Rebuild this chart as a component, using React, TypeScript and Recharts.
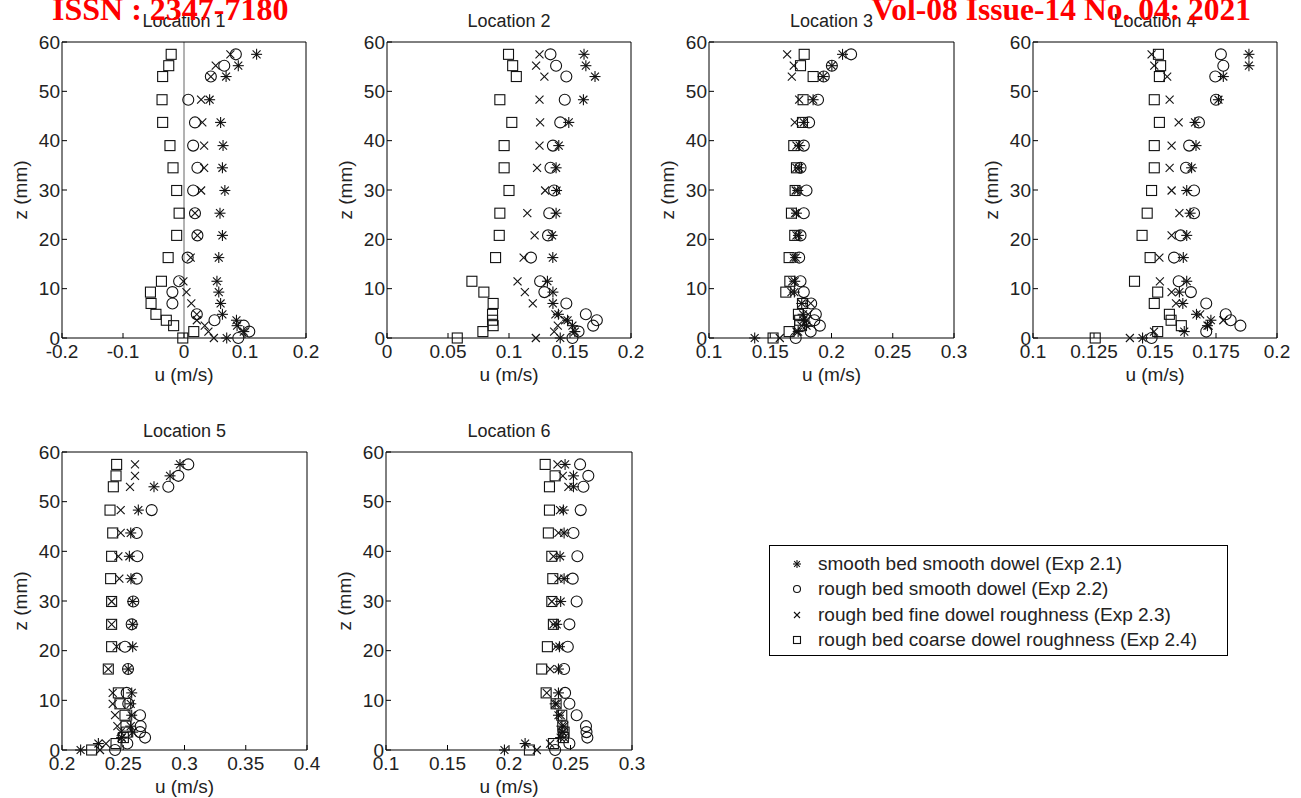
import React from "react";
import { ScatterChart, Scatter, XAxis, YAxis, ReferenceLine } from "recharts";

// measurement heights above the bed (mm), bottom to top
const zLevels = [0, 1.3, 2.5, 3.6, 4.8, 7.0, 9.3, 11.5, 16.3, 20.8, 25.3, 29.9, 34.5, 39.0, 43.7, 48.3, 53.0, 55.2, 57.5];
const zTicks = [0, 10, 20, 30, 40, 50, 60];

const seriesLabels = [
  "smooth bed smooth dowel (Exp 2.1)",
  "rough bed smooth dowel (Exp 2.2)",
  "rough bed fine dowel roughness (Exp 2.3)",
  "rough bed coarse dowel roughness (Exp 2.4)",
];

// Location 1
const loc1Ticks = [-0.2, -0.1, 0, 0.1, 0.2];
const loc1Exp21 = [0.070, 0.098, 0.087, 0.086, 0.063, 0.060, 0.057, 0.054, 0.057, 0.063, 0.059, 0.067, 0.063, 0.064, 0.060, 0.042, 0.069, 0.089, 0.119];
const loc1Exp22 = [0.089, 0.107, 0.098, 0.050, 0.021, -0.019, -0.019, -0.008, 0.006, 0.022, 0.018, 0.015, 0.022, 0.015, 0.018, 0.007, 0.044, 0.066, 0.085];
const loc1Exp23 = [0.049, 0.040, 0.034, 0.021, 0.021, 0.012, 0.004, -0.001, 0.011, 0.022, 0.018, 0.028, 0.033, 0.033, 0.030, 0.028, 0.044, 0.052, 0.076];
const loc1Exp24 = [-0.002, 0.016, -0.017, -0.029, -0.046, -0.054, -0.055, -0.037, -0.026, -0.012, -0.008, -0.012, -0.018, -0.023, -0.035, -0.036, -0.035, -0.025, -0.021];

// Location 2
const loc2Ticks = [0, 0.05, 0.1, 0.15, 0.2];
const loc2Exp21 = [0.142, 0.154, 0.152, 0.148, 0.1405, 0.136, 0.136, 0.1315, 0.1359, 0.1353, 0.1386, 0.139, 0.1386, 0.1408, 0.149, 0.161, 0.1705, 0.163, 0.1615];
const loc2Exp22 = [0.152, 0.157, 0.169, 0.172, 0.163, 0.147, 0.129, 0.1255, 0.118, 0.132, 0.133, 0.137, 0.134, 0.136, 0.142, 0.1457, 0.147, 0.1386, 0.134];
const loc2Exp23 = [0.122, 0.137, 0.140, 0.146, 0.138, 0.1195, 0.113, 0.107, 0.112, 0.121, 0.115, 0.1296, 0.123, 0.125, 0.1255, 0.125, 0.129, 0.1222, 0.125];
const loc2Exp24 = [0.0576, 0.0786, 0.087, 0.0865, 0.0865, 0.087, 0.0794, 0.0696, 0.089, 0.092, 0.0925, 0.100, 0.096, 0.096, 0.1023, 0.0925, 0.106, 0.103, 0.0996];

// Location 3
const loc3Ticks = [0.1, 0.15, 0.2, 0.25, 0.3];
const loc3Exp21 = [0.1373, 0.1728, 0.1796, 0.177, 0.1768, 0.1757, 0.1697, 0.170, 0.1708, 0.173, 0.1714, 0.1725, 0.1736, 0.174, 0.1774, 0.185, 0.1932, 0.2003, 0.209];
const loc3Exp22 = [0.1708, 0.183, 0.1905, 0.186, 0.1872, 0.1834, 0.1774, 0.1747, 0.1736, 0.1747, 0.1774, 0.1796, 0.1747, 0.1774, 0.1817, 0.189, 0.1937, 0.2003, 0.216];
const loc3Exp23 = [0.1578, 0.1714, 0.1755, 0.1796, 0.181, 0.183, 0.1673, 0.168, 0.1692, 0.1714, 0.1703, 0.1708, 0.1714, 0.1714, 0.170, 0.1736, 0.1676, 0.1692, 0.1638];
const loc3Exp24 = [0.1523, 0.1654, 0.174, 0.174, 0.173, 0.1763, 0.1627, 0.166, 0.1654, 0.170, 0.1673, 0.1703, 0.1714, 0.1692, 0.1763, 0.1768, 0.185, 0.1747, 0.1777];

// Location 4
const loc4Ticks = [0.1, 0.125, 0.15, 0.175, 0.2];
const loc4Exp21 = [0.1449, 0.162, 0.1715, 0.1729, 0.167, 0.1614, 0.160, 0.163, 0.1616, 0.163, 0.1644, 0.163, 0.165, 0.1668, 0.1664, 0.176, 0.178, 0.1885, 0.1885];
const loc4Exp22 = [0.1486, 0.171, 0.185, 0.181, 0.179, 0.171, 0.1647, 0.1597, 0.1578, 0.1605, 0.166, 0.166, 0.1627, 0.164, 0.168, 0.175, 0.1747, 0.178, 0.177];
const loc4Exp23 = [0.1397, 0.1496, 0.172, 0.178, 0.1685, 0.1586, 0.1568, 0.152, 0.1518, 0.1568, 0.160, 0.1568, 0.156, 0.1568, 0.1597, 0.156, 0.155, 0.1497, 0.1486];
const loc4Exp24 = [0.1255, 0.1511, 0.1608, 0.1566, 0.1559, 0.1497, 0.1511, 0.1416, 0.148, 0.1447, 0.1468, 0.1486, 0.1497, 0.1497, 0.1518, 0.1497, 0.1518, 0.1523, 0.1514];

// Location 5
const loc5Ticks = [0.2, 0.25, 0.3, 0.35, 0.4];
const loc5Exp21 = [0.2152, 0.2297, 0.2487, 0.2577, 0.2561, 0.2569, 0.2561, 0.2569, 0.2541, 0.2577, 0.2577, 0.2577, 0.2563, 0.2550, 0.2561, 0.2623, 0.2751, 0.2882, 0.2963];
const loc5Exp22 = [0.2433, 0.2533, 0.2678, 0.2637, 0.2642, 0.2637, 0.2541, 0.2528, 0.2539, 0.2514, 0.2569, 0.2582, 0.2610, 0.2615, 0.2610, 0.2732, 0.2868, 0.2950, 0.3031];
const loc5Exp23 = [0.2310, 0.2359, 0.2487, 0.2479, 0.2452, 0.2433, 0.2414, 0.2414, 0.2378, 0.2446, 0.2405, 0.2405, 0.2468, 0.2460, 0.2479, 0.2479, 0.2555, 0.2596, 0.2596];
const loc5Exp24 = [0.2242, 0.2441, 0.2501, 0.2528, 0.2522, 0.2514, 0.2473, 0.2460, 0.2378, 0.2405, 0.2405, 0.2405, 0.2397, 0.2405, 0.2414, 0.2392, 0.2419, 0.2441, 0.2446];

// Location 6
const loc6Ticks = [0.1, 0.15, 0.2, 0.25, 0.3];
const loc6Exp21 = [0.1963, 0.2131, 0.242, 0.2437, 0.243, 0.2402, 0.2375, 0.2402, 0.2402, 0.241, 0.2388, 0.242, 0.2448, 0.2415, 0.2448, 0.2442, 0.2524, 0.2524, 0.2456];
const loc6Exp22 = [0.2375, 0.2491, 0.2637, 0.263, 0.2626, 0.255, 0.2491, 0.2456, 0.2448, 0.2478, 0.2491, 0.255, 0.2518, 0.2556, 0.2524, 0.2583, 0.2605, 0.2645, 0.2578];
const loc6Exp23 = [0.2226, 0.2334, 0.2448, 0.2437, 0.2448, 0.242, 0.2388, 0.2307, 0.2334, 0.2383, 0.2361, 0.2348, 0.2402, 0.2361, 0.2402, 0.2415, 0.2483, 0.2437, 0.2394];
const loc6Exp24 = [0.2166, 0.2361, 0.2442, 0.2448, 0.2437, 0.2429, 0.2383, 0.2302, 0.2266, 0.2312, 0.2361, 0.2348, 0.2356, 0.2348, 0.232, 0.2329, 0.2329, 0.2375, 0.2294];

const FONT = '"Liberation Sans", Arial, Helvetica, sans-serif';
const SERIF = '"Liberation Serif", "Times New Roman", serif';
const TEXT = "#222";
const INK = "#111";

type MarkProps = { cx?: number; cy?: number; small?: boolean };

function Asterisk({ cx = 0, cy = 0, small }: MarkProps) {
  const r = small ? 4 : 5.5;
  const d = r * 0.72;
  return (
    <g stroke={INK} strokeWidth={1.1} fill="none">
      <line x1={cx - r} y1={cy} x2={cx + r} y2={cy} />
      <line x1={cx} y1={cy - r} x2={cx} y2={cy + r} />
      <line x1={cx - d} y1={cy - d} x2={cx + d} y2={cy + d} />
      <line x1={cx - d} y1={cy + d} x2={cx + d} y2={cy - d} />
    </g>
  );
}

function Ring({ cx = 0, cy = 0, small }: MarkProps) {
  return <circle cx={cx} cy={cy} r={small ? 3.5 : 5.5} stroke={INK} strokeWidth={1.1} fill="none" />;
}

function Cross({ cx = 0, cy = 0, small }: MarkProps) {
  const h = small ? 3 : 4;
  return (
    <g stroke={INK} strokeWidth={1.1} fill="none">
      <line x1={cx - h} y1={cy - h} x2={cx + h} y2={cy + h} />
      <line x1={cx - h} y1={cy + h} x2={cx + h} y2={cy - h} />
    </g>
  );
}

function Square({ cx = 0, cy = 0, small }: MarkProps) {
  const h = small ? 3.5 : 5;
  return <rect x={cx - h} y={cy - h} width={2 * h} height={2 * h} stroke={INK} strokeWidth={1.1} fill="none" />;
}

const markers = [Asterisk, Ring, Cross, Square];

type Box = { left: number; top: number; w: number; h: number };

// room around the plot box for tick labels
const PAD_L = 60;
const PAD_R = 24;
const PAD_T = 14;
const PAD_B = 45;

function Panel({ title, ticks, series, box, zeroLine }: {
  title: string;
  ticks: number[];
  series: number[][];
  box: Box;
  zeroLine?: boolean;
}) {
  const domain: [number, number] = [ticks[0], ticks[ticks.length - 1]];
  const tickText = { fill: TEXT, fontSize: 19, fontFamily: FONT };
  const label = { position: "absolute" as const, fontFamily: FONT, color: TEXT, whiteSpace: "nowrap" as const };
  return (
    <>
      <div style={{ ...label, left: box.left, width: box.w, top: box.top - 31, lineHeight: "20px", fontSize: 18, textAlign: "center" }}>
        {title}
      </div>
      <div style={{ ...label, left: box.left, width: box.w, top: box.top + box.h + 27, lineHeight: "20px", fontSize: 19, textAlign: "center" }}>
        u (m/s)
      </div>
      <div style={{
        ...label, left: box.left - 41, top: box.top + box.h / 2, fontSize: 19, lineHeight: "20px",
        transform: "translate(-50%, -50%) rotate(-90deg)",
      }}>
        z (mm)
      </div>
      <div style={{ position: "absolute", left: box.left - PAD_L, top: box.top - PAD_T }}>
        <ScatterChart
          width={PAD_L + box.w + PAD_R}
          height={PAD_T + box.h + PAD_B}
          margin={{ top: 0, right: 0, bottom: 0, left: 0 }}
        >
          <XAxis xAxisId="b" type="number" dataKey="u" domain={domain} ticks={ticks} interval={0}
            orientation="bottom" height={PAD_B} tickSize={-5} tickMargin={12} stroke="#000" tick={tickText} />
          <XAxis xAxisId="t" type="number" domain={domain} ticks={ticks} interval={0}
            orientation="top" height={PAD_T} tickSize={-5} stroke="#000" tick={false} />
          <YAxis yAxisId="l" type="number" dataKey="z" domain={[0, 60]} ticks={zTicks} interval={0}
            width={PAD_L} tickSize={-5} tickMargin={7} stroke="#000" tick={tickText} />
          <YAxis yAxisId="r" type="number" domain={[0, 60]} ticks={zTicks} interval={0}
            orientation="right" width={PAD_R} tickSize={-5} stroke="#000" tick={false} />
          {zeroLine && <ReferenceLine xAxisId="b" yAxisId="l" x={0} stroke="#666" strokeWidth={1} />}
          {series.map((vals, i) => {
            const Mark = markers[i];
            return (
              <Scatter
                key={i}
                name={seriesLabels[i]}
                xAxisId="b"
                yAxisId="l"
                data={zLevels.map((z, k) => ({ u: vals[k], z }))}
                shape={(p: any) => <Mark cx={p.cx} cy={p.cy} />}
                isAnimationActive={false}
              />
            );
          })}
        </ScatterChart>
      </div>
    </>
  );
}

const panels = [
  { title: "Location 1", ticks: loc1Ticks, series: [loc1Exp21, loc1Exp22, loc1Exp23, loc1Exp24], box: { left: 62, top: 42, w: 244, h: 296 }, zeroLine: true },
  { title: "Location 2", ticks: loc2Ticks, series: [loc2Exp21, loc2Exp22, loc2Exp23, loc2Exp24], box: { left: 387, top: 42, w: 244, h: 296 } },
  { title: "Location 3", ticks: loc3Ticks, series: [loc3Exp21, loc3Exp22, loc3Exp23, loc3Exp24], box: { left: 709, top: 42, w: 245, h: 296 } },
  { title: "Location 4", ticks: loc4Ticks, series: [loc4Exp21, loc4Exp22, loc4Exp23, loc4Exp24], box: { left: 1033, top: 42, w: 244, h: 296 } },
  { title: "Location 5", ticks: loc5Ticks, series: [loc5Exp21, loc5Exp22, loc5Exp23, loc5Exp24], box: { left: 62, top: 452, w: 245, h: 298 } },
  { title: "Location 6", ticks: loc6Ticks, series: [loc6Exp21, loc6Exp22, loc6Exp23, loc6Exp24], box: { left: 386, top: 452, w: 246, h: 298 } },
];

function Legend() {
  return (
    <div style={{
      position: "absolute", left: 769, top: 545, width: 459, height: 111,
      border: "1px solid #000", boxSizing: "border-box", background: "#fff",
    }}>
      {seriesLabels.map((text, i) => {
        const Mark = markers[i];
        return (
          <div key={text} style={{ position: "absolute", left: 0, top: 7 + i * 25.3, height: 22, display: "flex", alignItems: "center" }}>
            <svg width={48} height={22}>
              <Mark cx={27} cy={11} small />
            </svg>
            <span style={{ fontFamily: FONT, fontSize: 19, color: TEXT, lineHeight: "22px", whiteSpace: "nowrap" }}>{text}</span>
          </div>
        );
      })}
    </div>
  );
}

export default function App() {
  return (
    <div style={{ position: "absolute", left: 0, top: 0, width: 1301, height: 798, overflow: "hidden", background: "#fff" }}>
      {panels.map((p) => (
        <Panel key={p.title} {...p} />
      ))}
      <Legend />
      <svg style={{ position: "absolute", left: 0, top: 0 }} width={1301} height={40}>
        <text x={52} y={20} fill="#f00" fontFamily={SERIF} fontWeight="bold" fontSize={32}>
          ISSN : 2347-7180
        </text>
        <text x={1251} y={20} textAnchor="end" fill="#f00" fontFamily={SERIF} fontWeight="bold" fontSize={31.5}>
          Vol-08 Issue-14 No. 04: 2021
        </text>
      </svg>
    </div>
  );
}
